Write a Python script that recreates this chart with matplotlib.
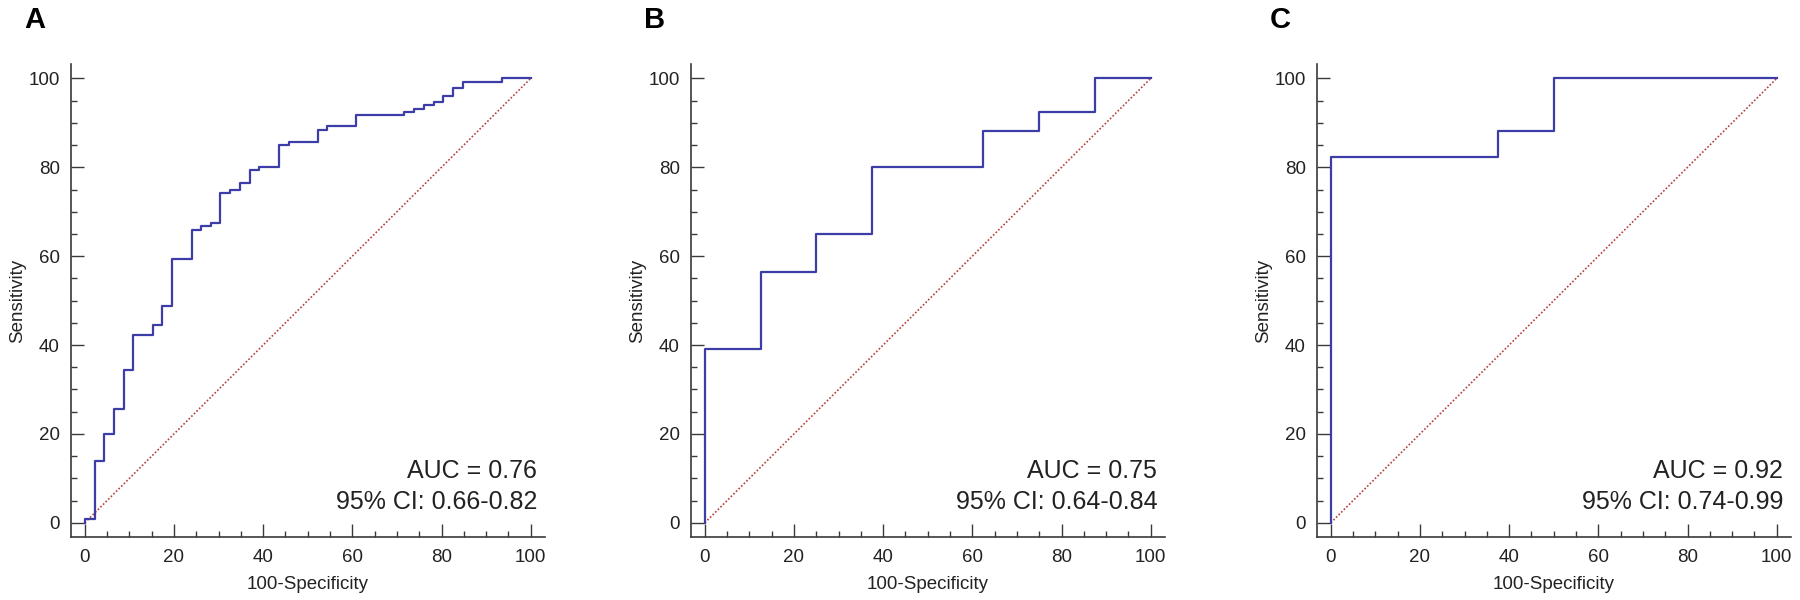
"""Three ROC curves (panels A-C) with AUC and 95% CI annotations."""

import matplotlib
matplotlib.use("Agg")
import matplotlib.pyplot as plt
from matplotlib.ticker import MultipleLocator

plt.rcParams["font.family"] = ["Liberation Sans", "DejaVu Sans"]

# ── data (100-Specificity, Sensitivity) ─────────────────────────────────
fpr_a = [0, 0, 2.2, 4.3, 6.5, 8.7, 10.9, 15.2, 17.4, 19.6, 24.1, 26.1, 28.3,
         30.4, 32.6, 34.9, 37.0, 39.1, 43.5, 45.7, 52.2, 54.3, 60.9, 71.7,
         73.9, 76.1, 78.3, 80.4, 82.6, 84.8, 93.5, 100]
tpr_a = [0, 0.8, 14.0, 19.9, 25.5, 34.4, 42.2, 44.6, 48.8, 59.3, 66.0, 66.8,
         67.4, 74.2, 75.0, 76.5, 79.3, 80.0, 85.0, 85.7, 88.3, 89.2, 91.8,
         92.5, 93.2, 94.0, 94.8, 96.1, 97.9, 99.1, 100, 100]

fpr_b = [0, 0, 12.5, 25, 37.5, 62.5, 75, 87.5, 100]
tpr_b = [0, 39.0, 56.4, 65.0, 80.0, 88.2, 92.5, 100, 100]

fpr_c = [0, 0, 37.5, 50, 100]
tpr_c = [0, 82.3, 88.2, 100, 100]

panel_letters = ["A", "B", "C"]
auc_labels = ["AUC = 0.76", "AUC = 0.75", "AUC = 0.92"]
ci_labels = ["95% CI: 0.66-0.82", "95% CI: 0.64-0.84", "95% CI: 0.74-0.99"]

CURVE = "#3d3da8"
DIAG = "#b5403c"
AXIS = "#3a3a3a"


def main():
    fig = plt.figure(figsize=(18, 6), dpi=100)
    fig.patch.set_facecolor("white")

    lefts = [71 / 1800, 691 / 1800, 1317 / 1800]
    curves = [(fpr_a, tpr_a), (fpr_b, tpr_b), (fpr_c, tpr_c)]

    for i, left in enumerate(lefts):
        ax = fig.add_axes([left, 0.105, 0.2633, 0.788])
        fpr, tpr = curves[i]

        ax.plot([0, 100], [0, 100], color=DIAG, lw=1.2, ls=(0, (1, 1.2)))
        ax.step(fpr, tpr, where="post", color=CURVE, lw=1.6)

        ax.set_xlim(-3.1, 103.2)
        ax.set_ylim(-3.2, 103.2)
        for side in ["top", "right"]:
            ax.spines[side].set_visible(False)
        for side in ["left", "bottom"]:
            ax.spines[side].set_color(AXIS)
            ax.spines[side].set_linewidth(1.2)

        ax.xaxis.set_major_locator(MultipleLocator(20))
        ax.xaxis.set_minor_locator(MultipleLocator(5))
        ax.yaxis.set_major_locator(MultipleLocator(20))
        ax.yaxis.set_minor_locator(MultipleLocator(5))
        ax.tick_params(which="both", direction="in", color=AXIS, width=1.0,
                       labelsize=13.5, labelcolor="#222222")
        ax.tick_params(which="major", length=9.5)
        ax.tick_params(which="minor", length=4)
        ax.tick_params(axis="x", pad=9)
        ax.tick_params(axis="y", pad=8)

        ax.set_xlabel("100-Specificity", fontsize=13.5, color="#222222")
        ax.set_ylabel("Sensitivity", fontsize=13.5, color="#222222")
        ax.xaxis.set_label_coords(0.5, -0.082)
        ax.yaxis.set_label_coords(-0.095, 0.5)

        ax.text(101.5, 11.6, auc_labels[i], ha="right", va="center",
                fontsize=18, color="#222222")
        ax.text(101.5, 4.7, ci_labels[i], ha="right", va="center",
                fontsize=18, color="#222222")

        fig.text(left - 47 / 1800, 1 - 6 / 600, panel_letters[i],
                 ha="left", va="top", fontsize=21, fontweight="bold")

    fig.savefig("out.png", dpi=100, facecolor="white")
    plt.close(fig)


if __name__ == "__main__":
    main()
